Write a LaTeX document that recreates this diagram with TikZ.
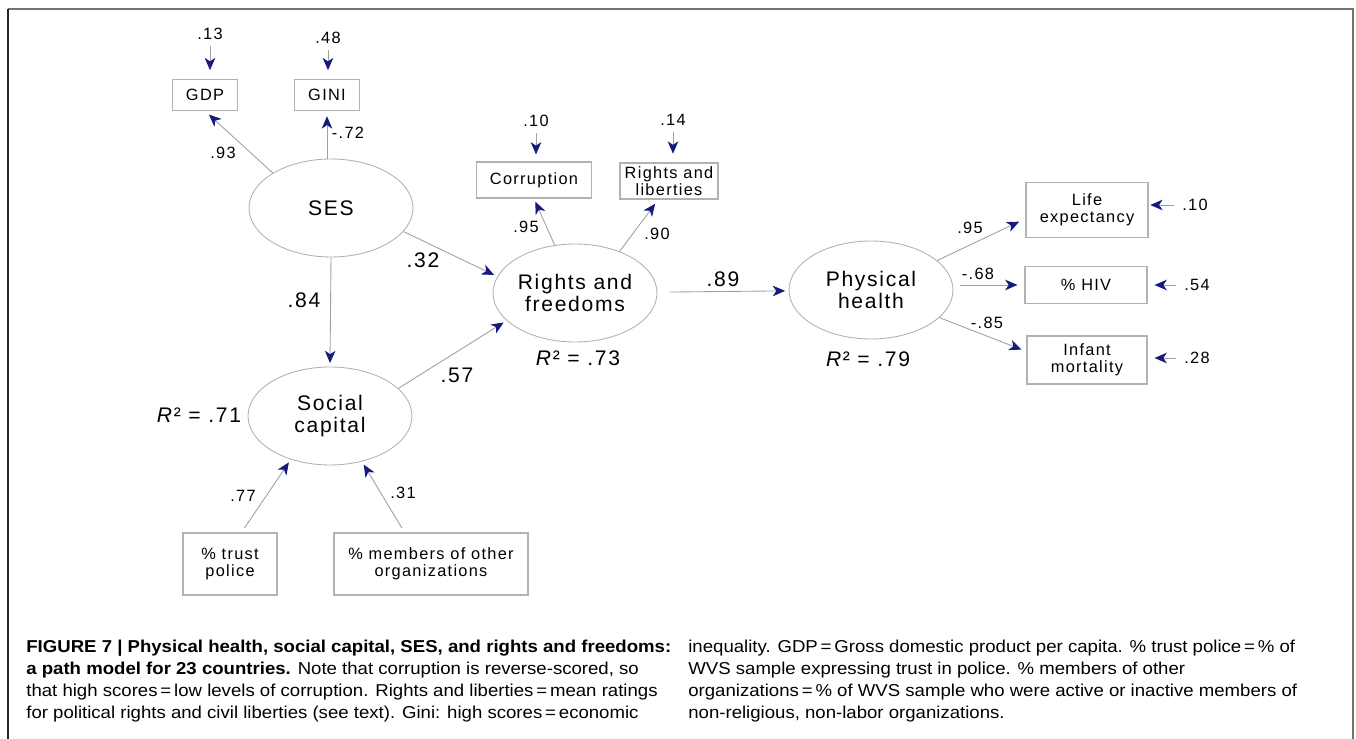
\documentclass[tikz,border=0pt]{standalone}
\usepackage{fontspec}
\setmainfont{Liberation Sans}
\newfontfamily\diagfont[LetterSpace=8]{Liberation Sans}
\newfontfamily\capfont[FakeStretch=1.08]{Liberation Sans}
\usetikzlibrary{arrows.meta, shapes.geometric}
\definecolor{pathblue}{RGB}{22,26,122}
\definecolor{linegray}{RGB}{160,160,160}
\definecolor{boxgray}{RGB}{178,178,178}

\begin{document}
\begin{tikzpicture}[x=0.02cm, y=-0.02cm,
    every node/.style={font=\diagfont\fontsize{9.3}{10}\selectfont},
    latent/.style={ellipse, draw=boxgray, line width=0.5pt, minimum width=3.28cm, minimum height=1.96cm,
        inner sep=0pt, align=center, font=\diagfont\fontsize{12}{13}\selectfont},
    obsbox/.style={rectangle, draw=boxgray, line width=0.6pt, inner sep=0pt, align=center,
        font=\diagfont\fontsize{9.3}{9.6}\selectfont},
    bigcoef/.style={font=\diagfont\fontsize{12}{13}\selectfont},
    pathline/.style={draw=linegray, line width=0.5pt, shorten >=2pt,
        -{Stealth[length=7pt, width=6pt, inset=2pt, color=pathblue]}},
    capstyle/.style={anchor=north west, align=left, inner sep=0pt, font=\capfont\fontsize{9.8}{12.5}\selectfont}]

    \useasboundingbox (0,0) rectangle (1356,739);

    % frame
    \draw[line width=1.3pt, black!55] (8,9) -- (1353,9) -- (1353,739);
    \draw[line width=1.3pt, black!85] (8,9) -- (8,739);

    % SES and its indicators
    \node[latent] (ses) at (331,208) {SES};
    \node[obsbox, minimum width=1.3cm, minimum height=0.62cm] (gdp) at (205,95) {GDP};
    \node[obsbox, minimum width=1.3cm, minimum height=0.62cm] (gini) at (327,95) {GINI};
    \node (e13) at (210,34) {.13};
    \node (e48) at (328,38) {.48};
    \draw[pathline, shorten >=5pt] (e13) -- (e13 |- gdp.north);
    \draw[pathline, shorten >=5pt] (e48) -- (e48 |- gini.north);
    \draw[pathline, shorten >=3pt] (ses.149) -- (gdp.south);
    \node (l93) at (223,153) {.93};
    \draw[pathline, shorten >=3pt] (ses.north -| gini) -- (gini.south);
    \node (l72) at (348,133) {-.72};

    % Rights and freedoms
    \node[latent] (rf) at (575,293) {Rights and\\freedoms};
    \node[obsbox, minimum width=2.3cm, minimum height=0.72cm] (corr) at (534,180) {Corruption};
    \node[obsbox, minimum width=1.96cm, minimum height=0.72cm] (rl) at (669,181) {Rights and\\liberties};
    \node (e10) at (536,121) {.10};
    \node (e14) at (673,120) {.14};
    \draw[pathline, shorten >=4pt] (e10) -- (e10 |- corr.north);
    \draw[pathline, shorten >=5pt] (e14) -- (e14 |- rl.north);
    \draw[pathline] (rf.113) -- (corr.south);
    \node (l95a) at (526,227) {.95};
    \draw[pathline, shorten >=3pt] (rf.43) -- (rl.240);
    \node (l90) at (657,234) {.90};
    \node[bigcoef] (r73) at (578,358) {\textit{R}² = .73};

    % SES -> Rights and freedoms
    \draw[pathline] (ses.342) -- (rf.168);
    \node[bigcoef] (l32) at (423,260) {.32};

    % Social capital
    \node[latent] (sc) at (330,416) {Social\\capital};
    \draw[pathline] (ses.south) -- (sc.north);
    \node[bigcoef] (l84) at (304,300) {.84};
    \node[bigcoef] (r71) at (199,415) {\textit{R}² = .71};
    \draw[pathline] (sc.22) -- (rf.202);
    \node[bigcoef] (l57) at (457,375) {.57};

    % indicators of social capital
    \node[obsbox, minimum width=1.88cm, minimum height=1.24cm] (trust) at (230,564) {\% trust\\police};
    \node[obsbox, minimum width=3.88cm, minimum height=1.24cm] (members) at (431,564) {\% members of other\\organizations};
    \draw[pathline, shorten <=3pt] (trust.70) -- (sc.228);
    \node (l77) at (243,496) {.77};
    \draw[pathline, shorten <=3pt] (members.130) -- (sc.305);
    \node (l31) at (403,493) {.31};

    % Physical health
    \node[latent] (ph) at (871,290) {Physical\\health};
    \draw[pathline, shorten <=7pt] (rf) -- (ph);
    \node[bigcoef] (l89) at (723,279) {.89};
    \node[bigcoef] (r79) at (868,359) {\textit{R}² = .79};

    % outcomes
    \node[obsbox, minimum width=2.44cm, minimum height=1.1cm] (life) at (1087,210) {Life\\expectancy};
    \node[obsbox, minimum width=2.44cm, minimum height=0.74cm] (hiv) at (1086,285) {\% HIV};
    \node[obsbox, minimum width=2.4cm, minimum height=0.96cm] (infant) at (1087,360) {Infant\\mortality};
    \draw[pathline, shorten >=4pt] (ph.24) -- (life.188);
    \node (l95b) at (970,228) {.95};
    \draw[pathline, shorten <=4pt, shorten >=4pt] (ph.east |- hiv) -- (hiv.west);
    \node (l68) at (978,274) {-.68};
    \draw[pathline, shorten >=3pt] (ph.338) -- (infant.172);
    \node (l85) at (987,323) {-.85};

    % errors of outcomes
    \node (e10b) at (1195,205) {.10};
    \node (e54) at (1197,285) {.54};
    \node (e28) at (1197,358) {.28};
    \draw[pathline, shorten <=1pt, shorten >=1pt] (e10b) -- (e10b -| life.east);
    \draw[pathline, shorten <=1pt, shorten >=4pt] (e54) -- (e54 -| hiv.east);
    \draw[pathline, shorten <=1pt, shorten >=4pt] (e28) -- (e28 -| infant.east);

    % caption
    \node[capstyle] (capleft) at (26,640) {\textbf{FIGURE 7 | Physical health, social capital, SES, and rights and freedoms:}\\
        \textbf{a path model for 23 countries.} Note that corruption is reverse-scored, so\\
        that high scores\,=\,low levels of corruption. Rights and liberties\,=\,mean ratings\\
        for political rights and civil liberties (see text). Gini: high scores\,=\,economic};
    \node[capstyle] (capright) at (688,640) {inequality. GDP\,=\,Gross domestic product per capita. \% trust police\,=\,\% of\\
        WVS sample expressing trust in police. \% members of other\\
        organizations\,=\,\% of WVS sample who were active or inactive members of\\
        non-religious, non-labor organizations.};

\end{tikzpicture}
\end{document}
